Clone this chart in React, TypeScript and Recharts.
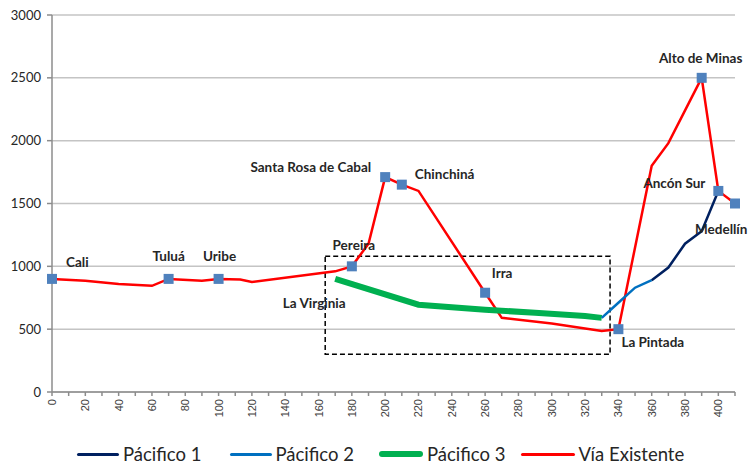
import {
  ComposedChart,
  Line,
  Scatter,
  XAxis,
  YAxis,
  CartesianGrid,
  ReferenceArea,
  Legend,
} from "recharts";

// Vía Existente (red) profile
const viaKm = [0, 20, 40, 60, 70, 90, 100, 113, 120, 170, 180, 190, 200, 210, 220, 260, 270, 300, 330, 340, 360, 370, 390, 400, 410];
const viaElev = [900, 885, 860, 845, 900, 885, 900, 895, 875, 960, 1000, 1180, 1710, 1650, 1600, 790, 590, 545, 485, 500, 1800, 1980, 2500, 1600, 1500];

// Pacífico 3 (green)
const p3Km = [170, 220, 260, 290, 320, 330];
const p3Elev = [900, 695, 655, 630, 605, 590];

// Pacífico 2 (blue)
const p2Km = [330, 340, 350, 360];
const p2Elev = [590, 710, 830, 890];

// Pacífico 1 (navy)
const p1Km = [360, 370, 380, 390, 400];
const p1Elev = [890, 990, 1180, 1280, 1600];

// named places (marker = blue square)
const placeNames = ["Cali", "Tuluá", "Uribe", "La Virginia", "Pereira", "Santa Rosa de Cabal", "Chinchiná", "Irra", "La Pintada", "Alto de Minas", "Ancón Sur", "Medellín"];
const placeKm = [0, 70, 100, 170, 180, 200, 210, 260, 340, 390, 400, 410];
const placeElev = [900, 900, 900, 900, 1000, 1710, 1650, 790, 500, 2500, 1600, 1500];
const placeMarker = [true, true, true, false, true, true, true, true, true, true, true, true];

const xTicks = [0, 10, 20, 30, 40, 50, 60, 70, 80, 90, 100, 110, 120, 130, 140, 150, 160, 170, 180, 190, 200, 210, 220, 230, 240, 250, 260, 270, 280, 290, 300, 310, 320, 330, 340, 350, 360, 370, 380, 390, 400, 410];
const yTicks = [0, 500, 1000, 1500, 2000, 2500, 3000];

// label placement relative to the marker (px)
const labelStyle: Record<string, { dx: number; dy: number; anchor: "start" | "middle" | "end" }> = {
  Cali: { dx: 14, dy: -17, anchor: "start" },
  "Tuluá": { dx: 0, dy: -23, anchor: "middle" },
  Uribe: { dx: 1, dy: -23, anchor: "middle" },
  "La Virginia": { dx: -21, dy: 24, anchor: "middle" },
  Pereira: { dx: 2, dy: -21, anchor: "middle" },
  "Santa Rosa de Cabal": { dx: -14, dy: -10, anchor: "end" },
  "Chinchiná": { dx: 13, dy: -11, anchor: "start" },
  Irra: { dx: 17, dy: -20, anchor: "middle" },
  "La Pintada": { dx: 3, dy: 13, anchor: "start" },
  "Alto de Minas": { dx: -1, dy: -20, anchor: "middle" },
  "Ancón Sur": { dx: -13, dy: -8, anchor: "end" },
  "Medellín": { dx: -40, dy: 25, anchor: "start" },
};

const toPoints = (xs: number[], ys: number[]) => xs.map((x, i) => ({ x, y: ys[i] }));

const via = toPoints(viaKm, viaElev);
const p3 = toPoints(p3Km, p3Elev);
const p2 = toPoints(p2Km, p2Elev);
const p1 = toPoints(p1Km, p1Elev);
const places = placeNames.map((name, i) => ({
  name,
  x: placeKm[i],
  y: placeElev[i],
  marker: placeMarker[i],
}));

const legendItems = [
  { label: "Pácifico 1", color: "#002060", width: 3, len: 42, gap: 28 },
  { label: "Pácifico 2", color: "#0070C0", width: 3, len: 42, gap: 25 },
  { label: "Pácifico 3", color: "#00B050", width: 6, len: 44, gap: 15 },
  { label: "Vía Existente", color: "#FF0000", width: 3, len: 54, gap: 0 },
];

function PlaceShape(props: any) {
  const { cx, cy, payload } = props;
  const s = labelStyle[payload.name];
  return (
    <g>
      {payload.marker && (
        <rect x={cx - 5} y={cy - 5} width={10} height={10} fill="#4F81BD" />
      )}
      <text
        x={cx + s.dx}
        y={cy + s.dy}
        textAnchor={s.anchor}
        dominantBaseline="central"
        fontFamily="Lato"
        fontWeight={700}
        fontSize={13.5}
        fill="#262626"
      >
        {payload.name}
      </text>
    </g>
  );
}

function XTick(props: any) {
  const { x, y, payload } = props;
  if (payload.value % 20 !== 0 || payload.value > 400) return null;
  return (
    <text
      x={x}
      y={y}
      transform={`rotate(-90 ${x} ${y})`}
      textAnchor="end"
      dominantBaseline="central"
      fontFamily="Liberation Sans"
      fontSize={11}
      fill="#404040"
    >
      {payload.value}
    </text>
  );
}

function LegendContent() {
  return (
    <div
      style={{
        position: "absolute",
        left: 77 - 8,
        top: 8,
        display: "flex",
        alignItems: "center",
        height: 28,
        whiteSpace: "nowrap",
        fontFamily: "Lato",
        fontSize: 18.5,
        color: "#262626",
      }}
    >
      {legendItems.map((it) => (
        <div key={it.label} style={{ display: "flex", alignItems: "center", marginRight: it.gap }}>
          <div style={{ width: it.len, height: it.width, background: it.color, borderRadius: it.width / 2, marginRight: 4 }} />
          <span>{it.label}</span>
        </div>
      ))}
    </div>
  );
}

export default function App() {
  return (
    <div style={{ position: "absolute", left: 0, top: 0, background: "#fff" }}>
      <ComposedChart width={749} height={466} margin={{ top: 15, right: 14, left: 8, bottom: 0 }}>
        <CartesianGrid vertical={false} stroke="#c4c4c4" strokeWidth={1.5} />
        <XAxis
          type="number"
          dataKey="x"
          domain={[0, 410]}
          ticks={xTicks}
          interval={0}
          height={40}
          tick={<XTick />}
          tickSize={4}
          tickMargin={3}
          stroke="#8c8c8c"
          strokeWidth={1.5}
        />
        <YAxis
          type="number"
          domain={[0, 3000]}
          ticks={yTicks}
          width={44}
          tickSize={5}
          tickMargin={6}
          stroke="#8c8c8c"
          strokeWidth={1.5}
          tick={{ fontFamily: "Lato", fontSize: 13, fill: "#262626" }}
        />
        <ReferenceArea
          x1={164}
          x2={335}
          y1={300}
          y2={1080}
          fill="none"
          stroke="#000"
          strokeWidth={1.5}
          strokeDasharray="5 3"
          ifOverflow="visible"
        />
        <Line data={via} dataKey="y" name="Vía Existente" stroke="#FF0000" strokeWidth={2.5} dot={false} isAnimationActive={false} />
        <Line data={p3} dataKey="y" name="Pácifico 3" stroke="#00B050" strokeWidth={6} dot={false} isAnimationActive={false} />
        <Line data={p2} dataKey="y" name="Pácifico 2" stroke="#0070C0" strokeWidth={2.5} dot={false} isAnimationActive={false} />
        <Line data={p1} dataKey="y" name="Pácifico 1" stroke="#002060" strokeWidth={2.5} dot={false} isAnimationActive={false} />
        <Scatter data={places} dataKey="y" shape={<PlaceShape />} isAnimationActive={false} />
        <Legend verticalAlign="bottom" height={34} content={<LegendContent />} />
      </ComposedChart>
    </div>
  );
}
